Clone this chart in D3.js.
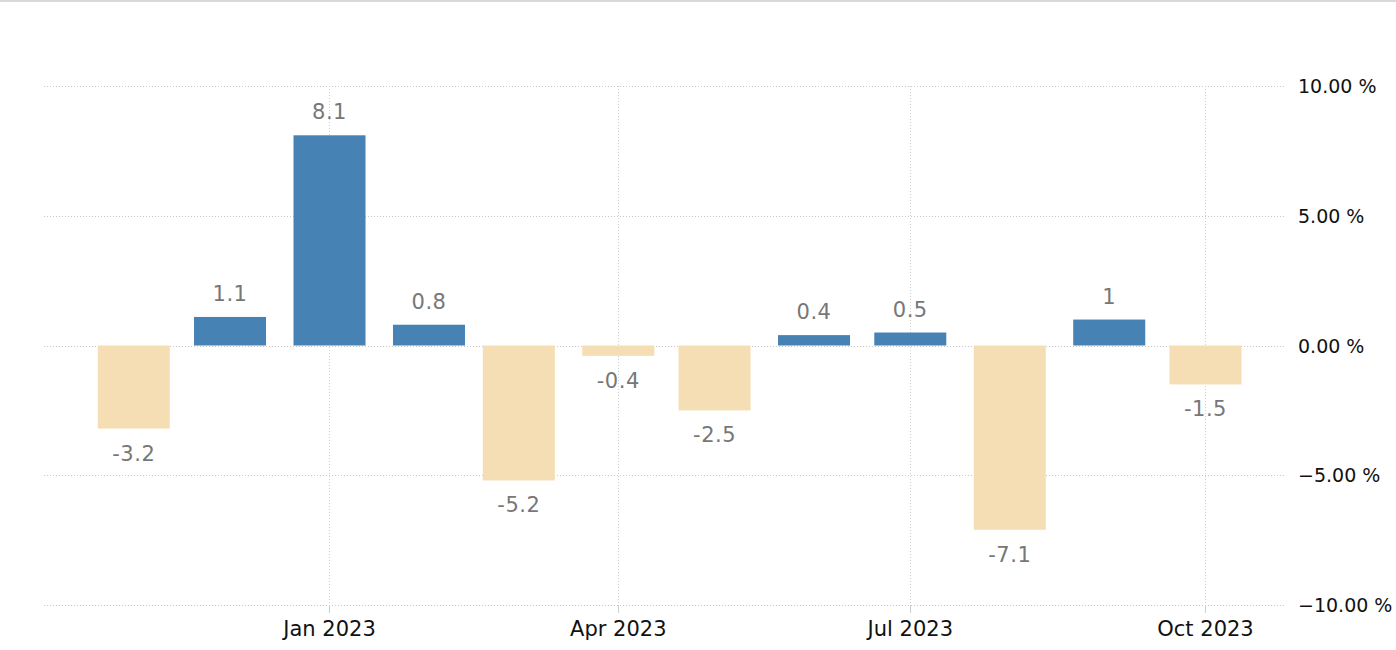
<!DOCTYPE html>
<html><head><meta charset="utf-8">
<script src="https://cdn.jsdelivr.net/npm/d3@7"></script>
<style>html,body{margin:0;padding:0;background:#fff;}svg{display:block;}</style>
</head><body>
<svg id="chart" width="1396" height="650"></svg>
<script>
const months = ["2022-11","2022-12","2023-01","2023-02","2023-03","2023-04","2023-05","2023-06","2023-07","2023-08","2023-09","2023-10"];
const values = [-3.2, 1.1, 8.1, 0.8, -5.2, -0.4, -2.5, 0.4, 0.5, -7.1, 1, -1.5];
const labels = ["-3.2","1.1","8.1","0.8","-5.2","-0.4","-2.5","0.4","0.5","-7.1","1","-1.5"];
const yTicks = [10, 5, 0, -5, -10];
const xTicks = ["2023-01","2023-04","2023-07","2023-10"];
const xTickLabels = ["Jan 2023","Apr 2023","Jul 2023","Oct 2023"];

(function(){
const parse = d3.timeParse("%Y-%m");
const svg = d3.select("#chart");
const W = 1396, H = 650;
const pLeft = 44, pRight = 1285, pTop = 86, pBottom = 605;
const font = "'DejaVu Sans', Verdana, sans-serif";

svg.append("rect").attr("x",0).attr("y",0).attr("width",W).attr("height",2).attr("fill","#d9d9d9");

const x = d3.scaleTime().domain([new Date(2023,0,1), new Date(2023,9,1)]).range([329.5,1205.5]);
const y = d3.scaleLinear().domain([-10,10]).range([pBottom,pTop]);

svg.append("g").selectAll("line").data(yTicks).join("line")
  .attr("x1",pLeft).attr("x2",pRight)
  .attr("y1",d=>Math.round(y(d))+0.5).attr("y2",d=>Math.round(y(d))+0.5)
  .attr("stroke","#c8c8c8").attr("stroke-dasharray","1,2").attr("stroke-width",1);

svg.append("g").selectAll("line").data(xTicks).join("line")
  .attr("x1",d=>Math.floor(x(parse(d)))+0.5).attr("x2",d=>Math.floor(x(parse(d)))+0.5)
  .attr("y1",pTop).attr("y2",pBottom)
  .attr("stroke","#d0d0d0").attr("stroke-dasharray","1,2").attr("stroke-width",1);
svg.append("g").selectAll("line").data(xTicks).join("line")
  .attr("x1",d=>Math.floor(x(parse(d)))+0.5).attr("x2",d=>Math.floor(x(parse(d)))+0.5)
  .attr("y1",pBottom).attr("y2",pBottom+8)
  .attr("stroke","#cccccc").attr("stroke-width",1);

const bw = 72;
svg.append("g").selectAll("rect").data(values).join("rect")
  .attr("x",(d,i)=>x(parse(months[i]))-bw/2)
  .attr("width",bw)
  .attr("y",d=>d>=0?y(d):y(0))
  .attr("height",d=>Math.abs(y(d)-y(0)))
  .attr("fill",d=>d>=0?"#4682b4":"#f5deb3");

svg.append("g").selectAll("text").data(values).join("text")
  .attr("x",(d,i)=>x(parse(months[i])))
  .attr("y",d=>d>=0?y(d)-16:y(d)+32)
  .attr("text-anchor","middle")
  .attr("font-family",font).attr("font-size",21).attr("fill","#777777")
  .attr("letter-spacing","0.5px")
  .text((d,i)=>labels[i]);

svg.append("g").selectAll("text").data(yTicks).join("text")
  .attr("x",1298).attr("y",d=>y(d)+7)
  .attr("font-family",font).attr("font-size",19).attr("fill","#111")
  .text(d=>d3.format(".2f")(d)+" %");

svg.append("g").selectAll("text").data(xTicks).join("text")
  .attr("x",d=>x(parse(d))).attr("y",636)
  .attr("text-anchor","middle")
  .attr("font-family",font).attr("font-size",21).attr("fill","#111")
  .text((d,i)=>xTickLabels[i]);
})();
</script>
</body></html>
